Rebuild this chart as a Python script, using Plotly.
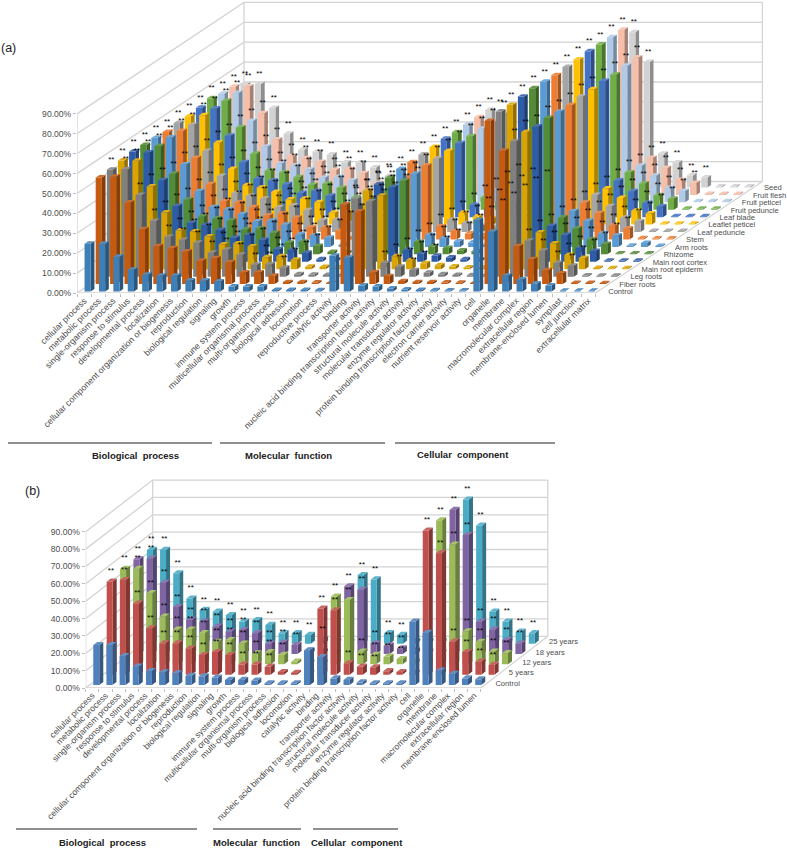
import plotly.graph_objects as go

W, H = 787, 849

# ---------- data panel (a) ----------
cats_a = ["cellular process","metabolic process","single-organism process","response to stimulus","developmental process","localization","cellular component organization or biogenesis","reproduction","biological regulation","signaling","growth","immune system process","multicellular organismal process","multi-organism process","biological adhesion","locomotion","reproductive process","catalytic activity","binding","transporter activity","nucleic acid binding transcription factor activity","structural molecule activity","molecular transducer activity","enzyme regulator activity","protein binding transcription factor activity","electron carrier activity","nutrient reservoir activity","cell","organelle","membrane","macromolecular complex","extracellular region","membrane-enclosed lumen","symplast","cell junction","extracellular matrix"]
series_a = ["Control","Fiber roots","Leg roots","Main root epiderm","Main root cortex","Rhizome","Arm roots","Stem","Leaf peduncle","Leaflet peticel","Leaf blade","Fruit peduncle","Fruit peticel","Fruit flesh","Seed"]
colors_a = ["#3F7FB8","#C55A11","#808080","#D9A300","#2F5CA8","#548C35","#5B9BD5","#ED7D31","#A5A5A5","#FFC000","#4472C4","#70AD47","#B0CAE8","#F6BFAA","#D2D2D2"]

control = [24,24,17.5,11,8.5,8,8,5.5,5.5,5,2.5,2.5,2.5,0.8,0.8,0.8,0.6,18,17,3,2.5,1.5,1,0.8,0.6,0.5,0.5,36,30,8,6,4,3,0.4,0.4,0.4]
fiber_roots = [53.6,54,41,27.6,19,18,16.4,11.7,13,11,5.9,5.9,4.2,1,1,0.8,0.5,40,36.5,6,4,1.5,1,1,0.8,0.7,0.5,82,67,19,12.5,7,5.4,0.6,0.6,0.5]
leg_roots = [53.8,54,41,28,20,18.5,17,12,13.5,11,6,6.2,4.5,1.2,1,0.8,0.6,39,37.8,6.9,5,3.3,2,1.2,0.8,0.7,0.5,83,68,18,13,7,5.5,0.6,0.5,0.5]
epiderm = [54.6,54.5,41.6,28.5,19.5,19,16.5,12.5,13,11.5,6,6.5,4.8,1.2,1.1,0.9,0.6,39.5,37,6.5,4.5,3,2,1.4,0.9,0.7,0.5,82.6,69,18.5,13,7.2,5.6,0.6,0.5,0.5]
cortex = [55.4,55,41,28,19.5,18.5,16,12,13.5,11,6.3,6,4.5,1.3,1,0.9,0.6,39,37.5,6,4.2,3,2.2,1.3,1,0.8,0.5,83,68,18,13.5,7,5.5,0.6,0.6,0.5]
rhizome = [55,54.5,40.5,27.5,19,18,17,12.5,13,10.8,5.8,6.4,4.2,1.2,1,0.8,0.6,38.5,37,6.2,4,3.2,2,1.5,0.9,0.7,0.5,83.5,68.5,18.5,13,7.5,5.2,0.5,0.5,0.5]
arm_roots = [54.8,55,41.5,28,20,18.8,16.5,12.8,13.2,11.2,6.2,5.8,4.6,1.1,1,0.8,0.6,39.2,36.8,6,4.4,2.8,2.2,1.2,0.8,0.8,0.5,83,68,18,13,6.8,5.8,0.6,2,0.5]
stem = [54,54.5,41,27.8,19.2,18.5,16.2,12,13,11,6,6,4.4,1.3,1.1,0.9,0.6,38.8,37.2,6.6,4.2,3,2,1.3,1,0.7,0.5,82.5,67.5,18.5,13.2,7,5.5,0.6,0.5,0.5]
leaf_peduncle = [54.8,54,40.8,28.2,19.5,18.2,16.8,12.4,13.4,11,5.8,6.2,4.5,1.2,1,0.8,0.6,39,37,6.2,4.5,3,2,1.4,0.9,0.7,0.5,83,68.2,18.6,13,7.2,5.4,0.5,0.5,0.5]
leaflet_peticel = [54.4,55,41.2,28,19.8,18.6,16.4,12.6,13,11.2,6,6.4,4.6,1.1,1,0.9,0.6,39,37,6,4.1,3.1,2.1,1.4,0.8,0.7,0.5,83,68,18.2,13.4,7,5.6,0.5,0.5,0.5]
leaf_blade = [55,54.6,41,27.6,19.4,18.4,16.6,12.2,13.2,10.8,6.1,6,4.4,1.2,1.1,0.8,0.6,39.4,37.2,6.1,4.3,2.9,2,1.3,0.9,0.7,0.5,83.4,68.4,18.4,13,7.1,5.5,0.5,0.5,0.5]
fruit_peduncle = [56,54.8,41.4,28.2,19.6,18.8,16.3,12.5,13.1,11,6.2,6.1,4.5,1.3,1,0.8,0.6,39,36.9,6.3,4.2,3,2,1.4,0.9,0.7,0.5,83,68,18.8,13.2,7.3,5.6,0.5,0.5,0.5]
fruit_peticel = [54.6,55,40.9,28,19.5,18.5,16.5,12.4,12.8,11,5.9,6,4.3,1.2,1,0.9,0.6,39.1,37,6,4.2,3,2.1,1.3,0.9,0.7,0.5,83,68.6,18.4,13.4,7.2,5.7,0.5,0.5,0.5]
fruit_flesh = [54.3,54.5,41,27.8,19.4,18.4,16.6,12.5,13,10.9,6,5.9,4.4,1.2,1,0.8,0.6,39,37,6.1,4.2,3,2,1.3,0.9,0.7,0.5,83,69,18.6,13.5,7.5,6,0.5,0.5,0.5]
seed = [51.8,52,40,27,19,18,16.6,12.5,12.5,10,5.8,5.6,4.2,1.1,1,0.8,0.6,39,37.5,6,4,2.9,2,1.3,0.9,0.7,0.5,78,63,17,12.5,6,5,0.5,0.5,0.5]
values_a = [control,fiber_roots,leg_roots,epiderm,cortex,rhizome,arm_roots,stem,leaf_peduncle,leaflet_peticel,leaf_blade,fruit_peduncle,fruit_peticel,fruit_flesh,seed]

# ---------- data panel (b) ----------
cats_b = ["cellular process","metabolic process","single-organism process","response to stimulus","developmental process","localization","cellular component organization or biogenesis","reproduction","biological regulation","signaling","growth","immune system process","multicellular organismal process","multi-organism process","biological adhesion","locomotion","catalytic activity","binding","transporter activity","nucleic acid binding transcription factor activity","structural molecule activity","molecular transducer activity","enzyme regulator activity","protein binding transcription factor activity","cell","organelle","membrane","macromolecular complex","extracellular region","membrane-enclosed lumen"]
series_b = ["Control","5 years","12 years","18 years","25 years"]
colors_b = ["#4F81BD","#C0504D","#9BBB59","#8064A2","#4BACC6"]
ctrl_b = [23,23,16.7,10.6,8,7.3,6.7,5.2,5,4.2,2.9,2.9,2.5,1,1,1,20,16,3.8,2.9,1.5,1,1,1,36.5,30,8.3,6.4,3.8,3.3]
y5_b = [53.6,54.5,41,26.7,18,18,15,11.3,13,11.3,5.8,5.8,4.6,1.5,1,1,38,37,6.5,4.6,4.2,2,1.5,1,83,70,19,13,7.5,5.6]
y12_b = [55,55,41,27.5,20,20,18,13,14,12,6.3,7,5.4,1.5,1,1,39,37,7.3,5.4,4.4,3,1.5,1,83,69,19,13,7.3,6.4]
y18_b = [54.5,55,41,27,19.6,18.6,15.7,12.9,13.8,12,6,6.5,5.2,2,1.5,1,39,37,6,5,3.3,2,1.5,1,83,68.5,18.6,14,8,6]
y25_b = [54,54,40.5,26,19.4,18.4,16.5,12.7,13.6,10.8,6,6,5,2.5,1.5,1,39.5,37,6,5,1.5,1.5,1.5,1,83,68,18.4,12.7,7,6]
values_b = [ctrl_b,y5_b,y12_b,y18_b,y25_b]

y_ticks = [0,10,20,30,40,50,60,70,80,90]
y_labels = ["0.00%","10.00%","20.00%","30.00%","40.00%","50.00%","60.00%","70.00%","80.00%","90.00%"]

TEXT = "#4d4d4d"


def shade(hex_color, f):
    r, g, b = [int(hex_color[i:i+2], 16) for i in (1, 3, 5)]
    if f <= 1:
        r, g, b = r*f, g*f, b*f
    else:
        r, g, b = r+(255-r)*(f-1), g+(255-g)*(f-1), b+(255-b)*(f-1)
    return "#%02x%02x%02x" % (int(r), int(g), int(b))


fig = go.Figure()


def panel(xa, ya, cats, series, colors, values, kx, ky, c0, c1, d0, d1, star_dy, min_star_series, lab_dx, lab_dy):
    n, m = len(cats), len(series)
    KX, KY = kx*m, ky*m
    grid = "#D4D4D4"
    wx, wy = [], []
    for v in y_ticks:
        wx += [0, KX, n+KX, None]
        wy += [v, v+KY, v+KY, None]
    wx += [0, 0, None, KX, KX, None, n+KX, n+KX, None, 0, n, n+KX, None]
    wy += [0, 90, None, KY, 90+KY, None, KY, 90+KY, None, 0, 0, KY, None]
    fig.add_trace(go.Scatter(x=wx, y=wy, mode="lines", line=dict(color=grid, width=1.3), xaxis=xa, yaxis=ya, hoverinfo="skip"))
    for s in range(m-1, -1, -1):
        fx, fy, sx, sy, tx, ty = [], [], [], [], [], []
        for c in range(n):
            v = values[s][c]
            ox0, oy0 = c+c0+(s+d0)*kx, (s+d0)*ky
            ox1 = c+c1+(s+d0)*kx
            ddx, ddy = (d1-d0)*kx, (d1-d0)*ky
            fx += [ox0, ox1, ox1, ox0, ox0, None]
            fy += [oy0, oy0, oy0+v, oy0+v, oy0, None]
            sx += [ox1, ox1+ddx, ox1+ddx, ox1, ox1, None]
            sy += [oy0, oy0+ddy, oy0+ddy+v, oy0+v, oy0, None]
            tx += [ox0, ox1, ox1+ddx, ox0+ddx, ox0, None]
            ty += [oy0+v, oy0+v, oy0+ddy+v, oy0+ddy+v, oy0+v, None]
        for px, py, f in ((sx, sy, 0.68), (fx, fy, 1.0), (tx, ty, 1.12)):
            col = shade(colors[s], f)
            fig.add_trace(go.Scatter(x=px, y=py, mode="lines", fill="toself", fillcolor=col, line=dict(width=0, color=col), xaxis=xa, yaxis=ya, hoverinfo="skip"))
    st_x, st_y = [], []
    for s in range(min_star_series, m):
        for c in range(n):
            v = values[s][c]
            if v >= 2.4:
                st_x.append(c+(c0+c1)/2+(s+d0)*kx+0.1)
                st_y.append((s+d0)*ky+v+star_dy)
    fig.add_trace(go.Scatter(x=st_x, y=st_y, mode="text", text=["**"]*len(st_x), textposition="middle center", textfont=dict(size=8, color="#000000", family="Liberation Sans"), xaxis=xa, yaxis=ya, hoverinfo="skip"))
    lx = [n+(s+0.5)*kx+lab_dx for s in range(m)]
    ly = [(s+0.5)*ky+lab_dy for s in range(m)]
    fig.add_trace(go.Scatter(x=lx, y=ly, mode="text", text=series, textposition="middle right", textfont=dict(size=7.6, color=TEXT, family="Liberation Sans"), xaxis=xa, yaxis=ya, hoverinfo="skip", cliponaxis=False))


ax_a = dict(x0=77, y0=293, px=14.4, py=1.99, top=0, catfont=8.8)
ax_b = dict(x0=85.7, y0=688, px=13.17, py=1.736, top=470, catfont=8.6)

panel("x", "y", cats_a, series_a, colors_a, values_a, 167/14.4/15, 111.5/1.99/15, 0.37, 0.80, 0.2, 0.53, 5.0, 2, 0.5, -1.6)
panel("x2", "y2", cats_b, series_b, colors_b, values_b, 67/13.17/5, 51.7/1.736/5, 0.28, 0.735, 0.29, 0.59, 6.0, 1, 0.6, -0.5)


def axes(cfg, cats):
    xa = dict(domain=[cfg["x0"]/W, 1], range=[0, (W-cfg["x0"])/cfg["px"]], tickmode="array", automargin=False,
              tickvals=[i+0.5 for i in range(len(cats))], ticktext=cats, tickangle=-45, ticks="",
              showgrid=False, zeroline=False, showline=False, tickfont=dict(size=cfg["catfont"], color=TEXT, family="Liberation Sans"),
              minor=dict(tickmode="array", tickvals=list(range(len(cats)+1)), ticks="outside", ticklen=3, tickcolor="#BFBFBF", showgrid=False))
    ya = dict(domain=[1-cfg["y0"]/H, 1-cfg["top"]/H], range=[0, (cfg["y0"]-cfg["top"])/cfg["py"]], tickmode="array", automargin=False,
              tickvals=y_ticks, ticktext=y_labels, ticks="outside", ticklen=3, tickcolor="#BFBFBF",
              showgrid=False, zeroline=False, showline=False, tickfont=dict(size=8.6, color=TEXT, family="Liberation Sans"))
    return xa, ya


xa1, ya1 = axes(ax_a, cats_a)
xa2, ya2 = axes(ax_b, cats_b)
xa1["anchor"] = "y"; ya1["anchor"] = "x"
xa2["anchor"] = "y2"; ya2["anchor"] = "x2"

shapes, ann = [], []


def px_line(x0, x1, y):
    shapes.append(dict(type="line", xref="paper", yref="paper", x0=x0/W, x1=x1/W, y0=1-y/H, y1=1-y/H, line=dict(color="#222222", width=1.2)))


def px_text(x, y, t, size, bold=False, color="#222222", family="Liberation Sans"):
    ann.append(dict(xref="paper", yref="paper", x=x/W, y=1-y/H, text=("<b>%s</b>" % t) if bold else t, showarrow=False,
                    xanchor="center", yanchor="middle", font=dict(size=size, color=color, family=family)))


for a, b in ((8, 212), (220, 385), (395, 555)):
    px_line(a, b, 443)
for a, b in ((16, 197), (213, 301), (313, 398)):
    px_line(a, b, 829)
px_text(135, 455, "Biological  process", 9.5, True)
px_text(288, 455, "Molecular  function", 9.5, True)
px_text(463, 454, "Cellular  component", 9.5, True)
px_text(102, 842, "Biological  process", 9.5, True)
px_text(256, 842, "Molecular  function", 9.5, True)
px_text(357, 842, "Cellular  component", 9.5, True)
px_text(8, 48, "(a)", 12.5)
px_text(32, 491, "(b)", 12.5)

fig.update_layout(width=W, height=H, margin=dict(l=0, r=0, t=0, b=0), paper_bgcolor="white", plot_bgcolor="rgba(0,0,0,0)",
                  showlegend=False, xaxis=xa1, yaxis=ya1, xaxis2=xa2, yaxis2=ya2, shapes=shapes, annotations=ann,
                  font=dict(family="Liberation Sans"))
fig.write_html("out.html", config=dict(displayModeBar=False), post_script="document.body.style.margin='0';document.documentElement.style.overflow='hidden';window.scrollTo(0,0);")
